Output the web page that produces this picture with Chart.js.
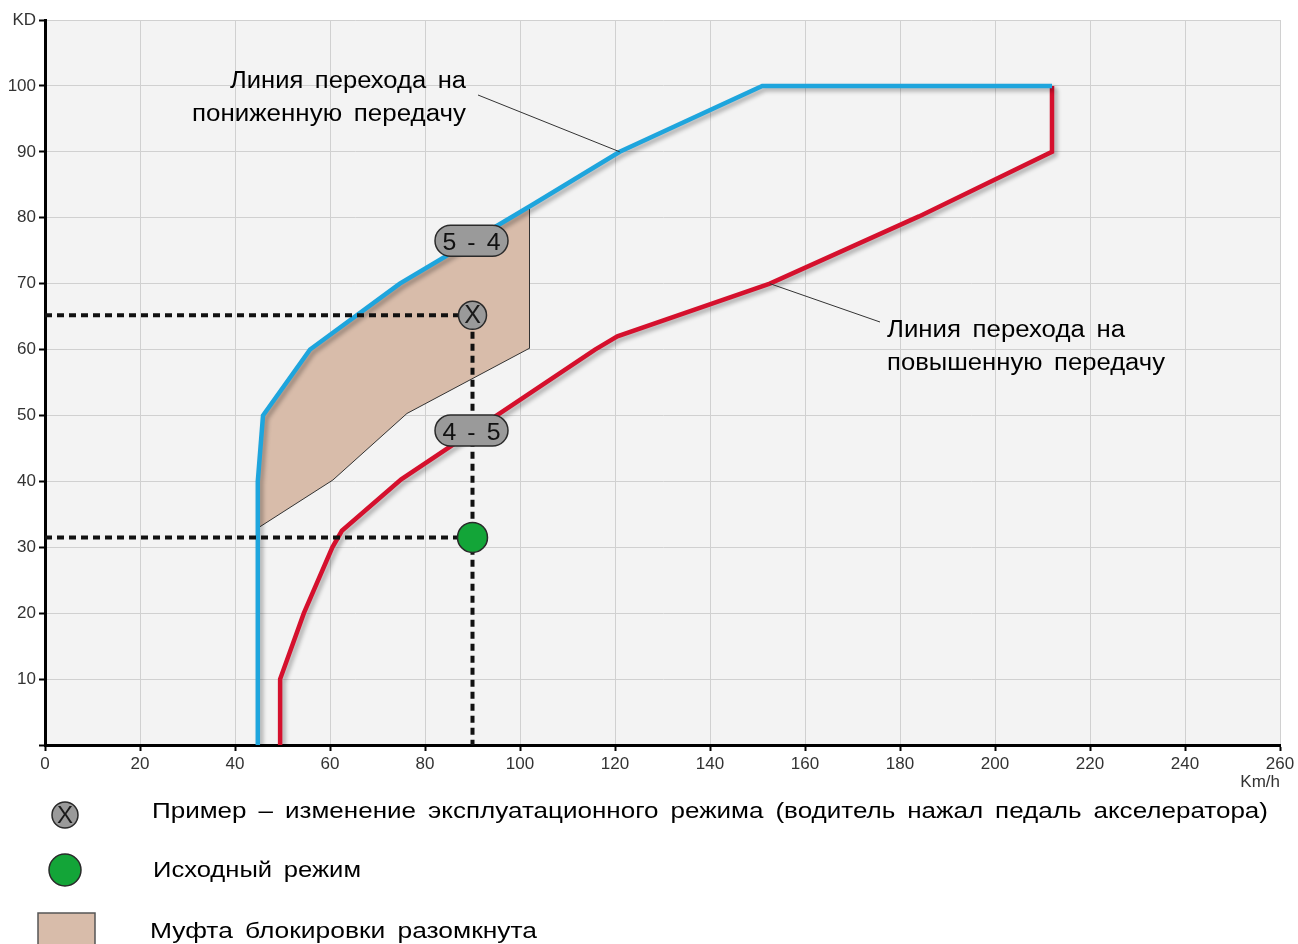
<!DOCTYPE html>
<html>
<head>
<meta charset="utf-8">
<script src="https://cdn.jsdelivr.net/npm/chart.js@4"></script>
<style>
  html, body { margin: 0; padding: 0; background: #fff; }
  #wrap { width: 1298px; height: 944px; }
</style>
</head>
<body>
<div id="wrap"><canvas id="shift" width="1298" height="944"></canvas></div>
<script>
// speed (km/h) / kickdown (%) points
const downshiftX = [44.8, 44.8, 45.9, 55.8, 74.7, 102.7, 121, 151, 212];
const downshiftY = [0, 40, 50, 60, 70, 82, 90, 100, 100];

const upshiftX = [49.5, 49.5, 54.5, 60.5, 62.5, 75, 115.8, 120.5, 152.6, 184, 212, 212];
const upshiftY = [0, 10, 20, 30, 32.5, 40.3, 60, 62, 70, 80.2, 90, 100];

const lockupX = [45, 45, 45.9, 55.8, 74.7, 102, 102, 76.2, 60.6, 45];
const lockupY = [33, 40, 50, 60, 70, 81.8, 60.2, 50.3, 40.2, 33];

const examplePoint = [90, 65.2];
const startPoint = [90, 31.5];
const labelPoints = [[90, 76.5, '5 - 4'], [90, 47.7, '4 - 5']];

const xTicks = [0, 20, 40, 60, 80, 100, 120, 140, 160, 180, 200, 220, 240, 260];
const yTicks = [10, 20, 30, 40, 50, 60, 70, 80, 90, 100, 'KD'];

const legendItems = [
  'Пример – изменение эксплуатационного режима (водитель нажал педаль акселератора)',
  'Исходный режим',
  'Муфта блокировки разомкнута'
];

const zip = (xs, ys) => xs.map((x, i) => ({ x: x, y: ys[i] }));
const FONT = '"Liberation Sans", Arial, sans-serif';

function fitText(ctx, str, x, y, w, align) {
  ctx.save();
  if ('wordSpacing' in ctx) ctx.wordSpacing = '4px';
  const m = ctx.measureText(str).width;
  ctx.translate(align === 'right' ? x - w : (align === 'center' ? x - w / 2 : x), y);
  ctx.scale(w / m, 1);
  ctx.textAlign = 'left';
  ctx.fillText(str, 0, 0);
  ctx.restore();
}

function pill(ctx, cx, cy, w, h) {
  const r = h / 2;
  ctx.beginPath();
  ctx.moveTo(cx - w / 2 + r, cy - r);
  ctx.lineTo(cx + w / 2 - r, cy - r);
  ctx.arc(cx + w / 2 - r, cy, r, -Math.PI / 2, Math.PI / 2);
  ctx.lineTo(cx - w / 2 + r, cy + r);
  ctx.arc(cx - w / 2 + r, cy, r, Math.PI / 2, Math.PI * 1.5);
  ctx.closePath();
}

const extras = {
  id: 'extras',
  beforeDraw(chart) {
    const { ctx, chartArea: a } = chart;
    ctx.save();
    ctx.fillStyle = '#f3f3f3';
    ctx.fillRect(a.left, a.top, a.right - a.left, a.bottom - a.top);
    ctx.restore();
  },
  beforeDatasetDraw(chart, args) {
    const ds = chart.data.datasets[args.index];
    if (ds.shadow) {
      chart.ctx.save();
      chart.ctx.shadowColor = 'rgba(0,0,0,0.3)';
      chart.ctx.shadowBlur = 4;
      chart.ctx.shadowOffsetX = 3;
      chart.ctx.shadowOffsetY = 3;
    }
  },
  afterDatasetDraw(chart, args) {
    if (chart.data.datasets[args.index].shadow) chart.ctx.restore();
  },
  afterDatasetsDraw(chart) {
    const { ctx, scales: { x, y } } = chart;
    ctx.save();
    // X letter in the example marker
    ctx.fillStyle = '#1a1a1a';
    ctx.font = '25px ' + FONT;
    ctx.textAlign = 'center';
    ctx.textBaseline = 'middle';
    ctx.fillText('X', x.getPixelForValue(examplePoint[0]), y.getPixelForValue(examplePoint[1]) + 1);

    // gear change pills
    labelPoints.forEach(([vx, vy, t]) => {
      const px = x.getPixelForValue(vx) - 1, py = y.getPixelForValue(vy);
      pill(ctx, px, py, 73, 31);
      ctx.fillStyle = '#9a9a9a';
      ctx.fill();
      ctx.lineWidth = 1.5;
      ctx.strokeStyle = '#2a2a2a';
      ctx.stroke();
      ctx.fillStyle = '#111';
      ctx.font = '24px ' + FONT;
      ctx.textBaseline = 'alphabetic';
      fitText(ctx, t, px, py + 9, 58, 'center');
    });

    // callouts
    ctx.font = '23px ' + FONT;
    ctx.fillStyle = '#000';
    ctx.textBaseline = 'alphabetic';
    fitText(ctx, 'Линия перехода на', 466, 88, 236, 'right');
    fitText(ctx, 'пониженную передачу', 466, 121, 274, 'right');
    fitText(ctx, 'Линия перехода на', 887, 337, 238, 'left');
    fitText(ctx, 'повышенную передачу', 887, 370, 278, 'left');
    ctx.strokeStyle = '#333';
    ctx.lineWidth = 1;
    ctx.beginPath();
    ctx.moveTo(478, 95);
    ctx.lineTo(x.getPixelForValue(121), y.getPixelForValue(90));
    ctx.moveTo(880, 322);
    ctx.lineTo(x.getPixelForValue(152.6), y.getPixelForValue(70));
    ctx.stroke();
    ctx.restore();
  },
  afterDraw(chart) {
    const ctx = chart.ctx;
    ctx.save();
    // legend icons
    ctx.beginPath();
    ctx.arc(65, 815, 13, 0, Math.PI * 2);
    ctx.fillStyle = '#9a9a9a';
    ctx.fill();
    ctx.lineWidth = 1.5;
    ctx.strokeStyle = '#2a2a2a';
    ctx.stroke();
    ctx.fillStyle = '#1a1a1a';
    ctx.font = '24px ' + FONT;
    ctx.textAlign = 'center';
    ctx.textBaseline = 'middle';
    ctx.fillText('X', 65, 816);

    ctx.beginPath();
    ctx.arc(65, 870, 16, 0, Math.PI * 2);
    ctx.fillStyle = '#13a538';
    ctx.fill();
    ctx.stroke();

    ctx.fillStyle = '#d8bcaa';
    ctx.fillRect(38, 913, 57, 34);
    ctx.strokeStyle = '#555';
    ctx.lineWidth = 1.5;
    ctx.strokeRect(38, 913, 57, 34);

    ctx.fillStyle = '#000';
    ctx.font = '22px ' + FONT;
    ctx.textBaseline = 'alphabetic';
    fitText(ctx, legendItems[0], 152, 818, 1116, 'left');
    fitText(ctx, legendItems[1], 153, 877, 208, 'left');
    fitText(ctx, legendItems[2], 150, 938, 387, 'left');
    ctx.restore();
  }
};

new Chart(document.getElementById('shift'), {
  type: 'scatter',
  data: {
    datasets: [
      {
        label: 'Исходный режим',
        data: [{ x: startPoint[0], y: startPoint[1] }],
        pointRadius: 15,
        pointBackgroundColor: '#13a538',
        pointBorderColor: '#2a2a2a',
        pointBorderWidth: 1.5,
        order: 1
      },
      {
        label: 'Пример',
        data: [{ x: examplePoint[0], y: examplePoint[1] }],
        pointRadius: 14,
        pointBackgroundColor: '#9a9a9a',
        pointBorderColor: '#2a2a2a',
        pointBorderWidth: 1.5,
        order: 1
      },
      {
        label: 'example path',
        data: [{ x: 0, y: examplePoint[1] }, { x: examplePoint[0], y: examplePoint[1] }, { x: examplePoint[0], y: 0 }],
        showLine: true,
        borderColor: '#111',
        borderWidth: 4,
        borderDash: [7, 5],
        pointRadius: 0,
        order: 2
      },
      {
        label: 'start path',
        data: [{ x: 0, y: startPoint[1] }, { x: startPoint[0], y: startPoint[1] }],
        showLine: true,
        borderColor: '#111',
        borderWidth: 4,
        borderDash: [7, 5],
        pointRadius: 0,
        order: 2
      },
      {
        label: 'Линия перехода на пониженную передачу',
        data: zip(downshiftX, downshiftY),
        showLine: true,
        borderColor: '#1ea5dd',
        borderWidth: 4.5,
        pointRadius: 0,
        shadow: true,
        order: 3
      },
      {
        label: 'Линия перехода на повышенную передачу',
        data: zip(upshiftX, upshiftY),
        showLine: true,
        borderColor: '#d5102d',
        borderWidth: 4.5,
        pointRadius: 0,
        shadow: true,
        order: 3
      },
      {
        label: 'Муфта блокировки разомкнута',
        data: zip(lockupX, lockupY),
        showLine: true,
        fill: 'shape',
        backgroundColor: '#d8bcaa',
        borderColor: '#333',
        borderWidth: 1,
        pointRadius: 0,
        order: 5
      }
    ]
  },
  options: {
    responsive: false,
    devicePixelRatio: 1,
    animation: false,
    layout: { padding: { top: 20, right: 18, left: 0, bottom: 0 } },
    plugins: { legend: { display: false }, tooltip: { enabled: false } },
    scales: {
      x: {
        type: 'linear',
        min: 0,
        max: 260,
        afterBuildTicks: s => { s.ticks = xTicks.map(v => ({ value: v })); },
        afterFit: s => { s.height = 199; },
        ticks: { color: '#333', font: { family: FONT, size: 17 }, padding: 3, maxRotation: 0 },
        grid: { color: '#d0d0d0', lineWidth: 1, tickColor: '#000', tickLength: 6, tickWidth: 2 },
        border: { color: '#000', width: 3 },
        title: {
          display: true, text: 'Km/h', align: 'end', color: '#333',
          font: { family: FONT, size: 17 }, padding: { top: 0, bottom: 151 }
        }
      },
      y: {
        type: 'linear',
        min: 0,
        max: 110,
        afterBuildTicks: s => { s.ticks = [0].concat(yTicks.map((t, i) => 10 * (i + 1))).map(v => ({ value: v })); },
        afterFit: s => { s.width = 45; },
        ticks: {
          color: '#333', font: { family: FONT, size: 17 }, padding: 3,
          callback: v => v === 0 ? '' : yTicks[v / 10 - 1]
        },
        grid: { color: '#d0d0d0', lineWidth: 1, tickColor: '#000', tickLength: 6, tickWidth: 2 },
        border: { color: '#000', width: 3 }
      }
    }
  },
  plugins: [extras]
});
</script>
</body>
</html>
